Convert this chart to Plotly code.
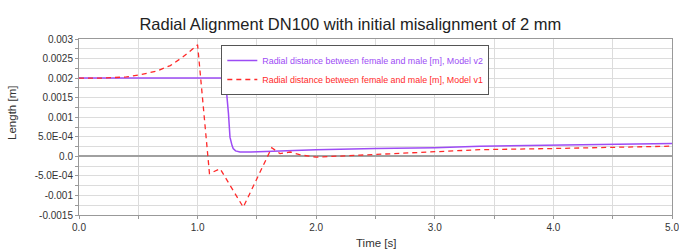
import plotly.graph_objects as go

t_v2 = [0, 1.2, 1.22, 1.24, 1.26, 1.273, 1.29, 1.30, 1.32, 1.357, 1.45, 1.55, 1.8, 2.0, 2.5, 3.0, 3.38, 4.0, 4.5, 5.0]
y_v2 = [0.002, 0.002, 0.0019, 0.00178, 0.0011, 0.00049, 0.00028, 0.0002, 0.00014, 0.00011,
        0.00011, 0.00012, 0.00015, 0.00017, 0.0002, 0.00022, 0.00026, 0.00029, 0.00031, 0.00033]

t_v1 = [0, 0.2, 0.4, 0.51, 0.655, 0.77, 0.88, 0.99, 1.0, 1.10, 1.19, 1.385, 1.625, 1.695,
        1.78, 1.88, 2.0, 2.37, 3.0, 3.38, 4.0, 4.5, 5.0]
y_v1 = [0.002, 0.002, 0.00203, 0.00208, 0.00218, 0.00232, 0.00255, 0.00283, 0.00285, -0.00044,
        -0.00032, -0.0013, 0.00022, 0.00007, 0.00011, 0.00003, -0.00002, 0.00003, 0.00012,
        0.00017, 0.0002, 0.00023, 0.00026]

series_names = ["Radial distance between female and male [m], Model v2",
                "Radial distance between female and male [m], Model v1"]

x_tickvals = [0, 1, 2, 3, 4, 5]
x_ticktext = ["0.0", "1.0", "2.0", "3.0", "4.0", "5.0"]
y_tickvals = [0.003, 0.0025, 0.002, 0.0015, 0.001, 0.0005, 0.0, -0.0005, -0.001, -0.0015]
y_ticktext = ["0.003", "0.0025", "0.002", "0.0015", "0.001", "5.0E-04", "0.0", "-5.0E-04", "-0.001", "-0.0015"]

purple = "#9d4cf5"
red = "#ff2a2a"
font = "Liberation Sans, Arial, sans-serif"

fig = go.Figure()
fig.add_trace(go.Scatter(x=t_v2, y=y_v2, mode="lines",
                         name=f"<span style='color:{purple}'>{series_names[0]}</span>",
                         line=dict(color=purple, width=1.5)))
fig.add_trace(go.Scatter(x=t_v1, y=y_v1, mode="lines",
                         name=f"<span style='color:{red}'>{series_names[1]}</span>",
                         line=dict(color=red, width=1.3, dash="5px,4px")))

grid = "#dcdcdc"
fig.update_layout(
    width=679, height=252,
    margin=dict(l=79, r=7, t=39, b=37),
    paper_bgcolor="white", plot_bgcolor="white",
    font=dict(family=font, size=10, color="#333"),
    title=dict(text="Radial Alignment DN100 with initial misalignment of 2 mm",
               x=0.516, xanchor="center", y=0.905, yanchor="middle",
               font=dict(size=16.5, color="#222", family=font)),
    showlegend=True,
    legend=dict(x=0.240, y=0.966, xanchor="left", yanchor="top",
                bgcolor="white", bordercolor="#555", borderwidth=1,
                font=dict(size=8.9, family=font), tracegroupgap=0,
                itemwidth=30),
    xaxis=dict(range=[0, 5], tickvals=x_tickvals, ticktext=x_ticktext,
               showgrid=True, gridcolor=grid, gridwidth=1,
               showline=True, linecolor="#999", linewidth=1, mirror=True,
               ticks="outside", ticklen=3, tickcolor="#999",
               minor=dict(dtick=0.5, showgrid=True, gridcolor=grid, ticks="outside", ticklen=3, tickcolor="#999"),
               zeroline=False, automargin=False, ticklabeloverflow="allow",
               tickfont=dict(size=10, color="#333")),
    yaxis=dict(range=[-0.0015, 0.003], tickvals=y_tickvals, ticktext=y_ticktext,
               showgrid=True, gridcolor=grid, gridwidth=1,
               showline=True, linecolor="#999", linewidth=1, mirror=True,
               ticks="outside", ticklen=3, tickcolor="#999",
               minor=dict(tickvals=[0.00275, 0.00225, 0.00175, 0.00125, 0.00075, 0.00025,
                                    -0.00025, -0.00075, -0.00125],
                          showgrid=True, gridcolor=grid, ticks="outside", ticklen=3, tickcolor="#999"),
               zeroline=True, zerolinecolor="#a0a0a0", zerolinewidth=2, automargin=False,
               ticklabeloverflow="allow",
               tickfont=dict(size=10, color="#333")),
    annotations=[
        dict(text="Time [s]", x=0.5, y=0, xref="paper", yref="paper",
             xanchor="center", yanchor="middle", yshift=-28, showarrow=False,
             font=dict(size=11.5, color="#333", family=font)),
        dict(text="Length [m]", x=0, y=0.58, xref="paper", yref="paper",
             xanchor="center", yanchor="middle", xshift=-67, showarrow=False,
             textangle=-90, font=dict(size=11.5, color="#333", family=font)),
    ],
)

fig.write_html("out.html", config={"displayModeBar": False},
               post_script="document.body.style.margin='0';document.body.style.padding='0';")
